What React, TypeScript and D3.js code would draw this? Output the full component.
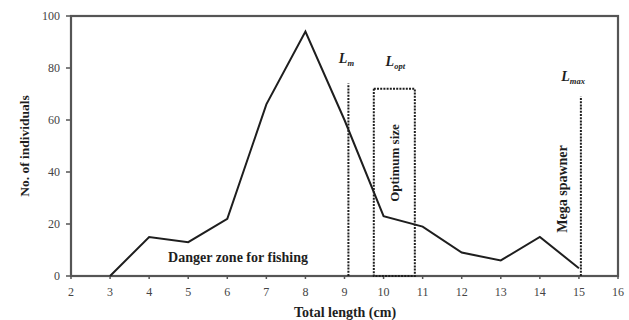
import React from "react";
import * as d3 from "d3";

// Length-frequency distribution
const lengths = [3, 4, 5, 6, 7, 8, 9, 10, 11, 12, 13, 14, 15];
const counts = [0, 15, 13, 22, 66, 94, 60, 23, 19, 9, 6, 15, 3];

const xTicks = [2, 3, 4, 5, 6, 7, 8, 9, 10, 11, 12, 13, 14, 15, 16];
const yTicks = [0, 20, 40, 60, 80, 100];

// Reference lengths
const lm = 9.1;
const lmTop = 74;
const optRange = [9.75, 10.8];
const optTop = 72;
const lmax = 15.05;
const lmaxTop = 69;

const W = 629;
const H = 320;
const M = { left: 71, top: 16, right: 11, bottom: 44 };

const serif = "'Liberation Serif', 'Times New Roman', serif";
const ink = "#1e1e1e";
const frame = "#555";

export default function App() {
  const x = d3.scaleLinear().domain([2, 16]).range([M.left, W - M.right]);
  const y = d3.scaleLinear().domain([0, 100]).range([H - M.bottom, M.top]);
  const pts = lengths.map((l, i) => [l, counts[i]] as [number, number]);
  const line = d3
    .line<[number, number]>()
    .x((d) => x(d[0]))
    .y((d) => y(d[1]));

  const dash = "2,1.2";

  return (
    <svg
      width={W}
      height={H}
      style={{ position: "absolute", left: 0, top: 0, background: "#fff" }}
      fontFamily={serif}
    >
      {/* frame */}
      <rect
        x={x(2)}
        y={y(100)}
        width={x(16) - x(2)}
        height={y(0) - y(100)}
        fill="none"
        stroke={frame}
        strokeWidth={2.2}
      />
      {/* y ticks */}
      {yTicks.map((t) => (
        <g key={"y" + t}>
          <line x1={x(2) - 5} x2={x(2)} y1={y(t)} y2={y(t)} stroke={frame} strokeWidth={1.5} />
          <text
            x={x(2) - 11}
            y={y(t)}
            dy="0.35em"
            textAnchor="end"
            fontSize={12}
            fill="#444"
          >
            {t}
          </text>
        </g>
      ))}
      {/* x ticks */}
      {xTicks.map((t) => (
        <g key={"x" + t}>
          <line x1={x(t)} x2={x(t)} y1={y(0)} y2={y(0) + 3} stroke={frame} strokeWidth={1.5} />
          <text x={x(t)} y={y(0) + 20} textAnchor="middle" fontSize={12} fill="#444">
            {t}
          </text>
        </g>
      ))}

      {/* Lm line */}
      <line
        x1={x(lm)}
        x2={x(lm)}
        y1={y(0)}
        y2={y(lmTop)}
        stroke={ink}
        strokeWidth={2}
        strokeDasharray={dash}
      />
      {/* optimum size box */}
      <rect
        x={x(optRange[0])}
        y={y(optTop)}
        width={x(optRange[1]) - x(optRange[0])}
        height={y(0) - y(optTop)}
        fill="none"
        stroke={ink}
        strokeWidth={2}
        strokeDasharray={dash}
      />
      {/* Lmax line */}
      <line
        x1={x(lmax)}
        x2={x(lmax)}
        y1={y(0)}
        y2={y(lmaxTop)}
        stroke={ink}
        strokeWidth={2}
        strokeDasharray={dash}
      />

      {/* frequency line */}
      <path d={line(pts) || ""} fill="none" stroke={ink} strokeWidth={2} strokeLinejoin="miter" />

      {/* annotations */}
      <text x={x(9.05)} y={63} textAnchor="middle" fontSize={14} fontWeight="bold" fontStyle="italic" fill={ink}>
        L<tspan fontSize={8.5} dy={3}>m</tspan>
      </text>
      <text x={x(10.3)} y={66} textAnchor="middle" fontSize={14} fontWeight="bold" fontStyle="italic" fill={ink}>
        L<tspan fontSize={8.5} dy={3}>opt</tspan>
      </text>
      <text x={x(14.85)} y={81} textAnchor="middle" fontSize={14} fontWeight="bold" fontStyle="italic" fill={ink}>
        L<tspan fontSize={8.5} dy={3}>max</tspan>
      </text>

      <text
        transform={`translate(${x(10.28) + 4},163) rotate(-90)`}
        textAnchor="middle"
        fontSize={13}
        fontWeight="bold"
        fill={ink}
      >
        Optimum size
      </text>
      <text
        transform={`translate(${x(14.6) + 4},189) rotate(-90)`}
        textAnchor="middle"
        fontSize={14}
        fontWeight="bold"
        fill={ink}
      >
        Mega spawner
      </text>
      <text x={238} y={262} textAnchor="middle" fontSize={14} fontWeight="bold" fill={ink}>
        Danger zone for fishing
      </text>

      {/* axis titles */}
      <text x={345} y={317} textAnchor="middle" fontSize={14} fontWeight="bold" fill={ink}>
        Total length (cm)
      </text>
      <text
        transform="translate(29,146) rotate(-90)"
        textAnchor="middle"
        fontSize={13.5}
        fontWeight="bold"
        fill={ink}
      >
        No. of individuals
      </text>
    </svg>
  );
}
